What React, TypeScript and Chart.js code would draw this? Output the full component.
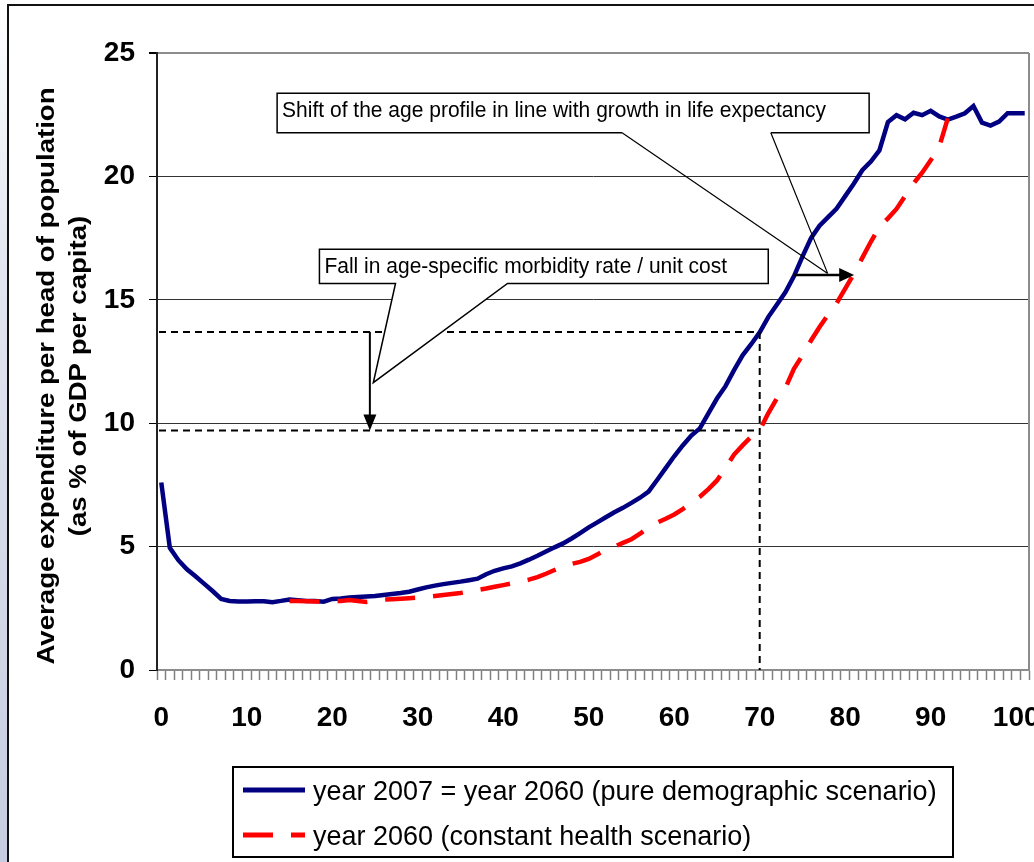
import React, { useEffect, useRef } from "react";
import { Chart, registerables } from "chart.js";

Chart.register(...registerables);

// Age categories 0..101
const ageLabels: string[] = Array.from({ length: 102 }, (_, i) => String(i));

// year 2007 = year 2060 (pure demographic scenario)
const bluePure: (number | null)[] = [
  7.6, 4.95, 4.45, 4.08, 3.8, 3.5, 3.2, 2.88, 2.8, 2.78,
  2.78, 2.79, 2.79, 2.75, 2.8, 2.86, 2.83, 2.8, 2.8, 2.77,
  2.88, 2.9, 2.94, 2.96, 2.98, 3.0, 3.04, 3.08, 3.12, 3.17,
  3.26, 3.35, 3.42, 3.48, 3.53, 3.58, 3.64, 3.7, 3.88, 4.02,
  4.12, 4.2, 4.32, 4.47, 4.63, 4.8, 4.97, 5.13, 5.33, 5.55,
  5.78, 5.98, 6.19, 6.39, 6.57, 6.77, 6.98, 7.23, 7.7, 8.18,
  8.66, 9.1, 9.5, 9.79, 10.4, 11.0, 11.5, 12.15, 12.75, 13.2,
  13.68, 14.3, 14.8, 15.3, 15.95, 16.75, 17.5, 18.0, 18.35, 18.7,
  19.2, 19.7, 20.25, 20.6, 21.05, 22.2, 22.48, 22.31, 22.58, 22.48,
  22.66, 22.43, 22.3, 22.42, 22.56, 22.85, 22.18, 22.06, 22.22, 22.56,
  22.56, 22.56,
];

// year 2060 (constant health scenario)
const redConstant: (number | null)[] = [
  null, null, null, null, null, null, null, null, null, null,
  null, null, null, null, null, 2.8, 2.8, 2.79, 2.78, 2.78,
  2.78, 2.8, 2.84, 2.8, 2.76, 2.8, 2.85, 2.87, 2.89, 2.91,
  2.93, 2.96, 3.0, 3.04, 3.08, 3.12, 3.18, 3.24, 3.3, 3.37,
  3.44, 3.51, 3.58, 3.66, 3.76, 3.9, 4.05, 4.19, 4.3, 4.38,
  4.5, 4.68, 4.86, 5.0, 5.15, 5.3, 5.52, 5.78, 5.97, 6.13,
  6.3, 6.52, 6.76, 7.02, 7.33, 7.68, 8.2, 8.73, 9.1, 9.45,
  9.72, 10.4, 11.0, 11.42, 12.2, 12.75, 13.35, 13.9, 14.4, 14.86,
  15.45, 16.05, 16.7, 17.35, 17.95, 18.3, 18.68, 19.2, 19.72, 20.15,
  20.65, 21.2, 22.35, null, null, null, null, null, null, null,
  null, null,
];

const yTicks = [0, 5, 10, 15, 20, 25];
const seriesNames = [
  "year 2007 = year 2060 (pure demographic scenario)",
  "year 2060 (constant health scenario)",
];
const yTitleLines = [
  "Average expenditure per head of population",
  "(as % of GDP per capita)",
];
const calloutShiftText = "Shift of the age profile in line with growth in life expectancy";
const calloutFallText = "Fall in age-specific morbidity rate / unit cost";

// annotation anchors in data units (age, value)
const levelBefore = 13.7;
const levelAfter = 9.7;
const refAge = 70;
const fallArrowAge = 24.4;
const shiftArrow = { fromAge: 74, toAge: 81.05, value: 16.0 };
const shiftBox = { left: 13.55, right: 82.8, top: 23.37, bottom: 21.77, baseL: 53.9, baseR: 71.3, apexAge: 77.95, apexVal: 16.07 };
const fallBox = { left: 18.5, right: 71.0, top: 17.05, bottom: 15.66, baseL: 27.4, baseR: 40.5, apexAge: 24.8, apexVal: 11.64 };

const FONT = '"Liberation Sans", Arial, Helvetica, sans-serif';

function drawText(
  ctx: CanvasRenderingContext2D,
  text: string,
  x: number,
  y: number,
  font: string,
  sy = 1,
  align: CanvasTextAlign = "left"
) {
  ctx.save();
  ctx.translate(x, y);
  ctx.scale(1, sy);
  ctx.font = font;
  ctx.fillStyle = "#000";
  ctx.textAlign = align;
  ctx.textBaseline = "alphabetic";
  ctx.fillText(text, 0, 0);
  ctx.restore();
}

const annotationPlugin = {
  id: "annotations",
  afterDatasetsDraw(chart: any) {
    const ctx: CanvasRenderingContext2D = chart.ctx;
    const xs = chart.scales.x;
    const ys = chart.scales.y;
    const px = (a: number) => xs.getPixelForValue(a);
    const py = (v: number) => ys.getPixelForValue(v);
    const area = chart.chartArea;

    ctx.save();
    // right border of plot area
    ctx.strokeStyle = "#8c8c8c";
    ctx.lineWidth = 2;
    ctx.beginPath();
    ctx.moveTo(area.right, area.top);
    ctx.lineTo(area.right, area.bottom);
    ctx.stroke();

    // dashed reference lines
    ctx.strokeStyle = "#000";
    ctx.lineWidth = 2;
    ctx.setLineDash([7, 5]);
    ctx.beginPath();
    ctx.moveTo(area.left + 2, py(levelBefore));
    ctx.lineTo(px(refAge), py(levelBefore));
    ctx.moveTo(area.left + 2, py(levelAfter));
    ctx.lineTo(px(refAge), py(levelAfter));
    ctx.moveTo(px(refAge), py(levelBefore));
    ctx.lineTo(px(refAge), area.bottom);
    ctx.stroke();
    ctx.setLineDash([]);

    // vertical arrow (fall)
    const ax = px(fallArrowAge);
    const ay1 = py(levelBefore);
    const ay2 = py(levelAfter);
    ctx.lineWidth = 2;
    ctx.beginPath();
    ctx.moveTo(ax, ay1);
    ctx.lineTo(ax, ay2 - 12);
    ctx.stroke();
    ctx.fillStyle = "#000";
    ctx.beginPath();
    ctx.moveTo(ax, ay2);
    ctx.lineTo(ax - 6.5, ay2 - 16);
    ctx.lineTo(ax + 6.5, ay2 - 16);
    ctx.closePath();
    ctx.fill();

    // horizontal arrow (shift)
    const hy = py(shiftArrow.value);
    const hx1 = px(shiftArrow.fromAge);
    const hx2 = px(shiftArrow.toAge);
    ctx.lineWidth = 2.5;
    ctx.beginPath();
    ctx.moveTo(hx1, hy);
    ctx.lineTo(hx2 - 12, hy);
    ctx.stroke();
    ctx.beginPath();
    ctx.moveTo(hx2, hy);
    ctx.lineTo(hx2 - 15, hy - 7);
    ctx.lineTo(hx2 - 15, hy + 7);
    ctx.closePath();
    ctx.fill();

    // callout: fall (filled wedge)
    {
      const L = px(fallBox.left), R = px(fallBox.right);
      const T = py(fallBox.top), B = py(fallBox.bottom);
      const bl = px(fallBox.baseL), br = px(fallBox.baseR);
      const apx = px(fallBox.apexAge), apy = py(fallBox.apexVal);
      ctx.beginPath();
      ctx.moveTo(L, T);
      ctx.lineTo(R, T);
      ctx.lineTo(R, B);
      ctx.lineTo(br, B);
      ctx.lineTo(apx, apy);
      ctx.lineTo(bl, B);
      ctx.lineTo(L, B);
      ctx.closePath();
      ctx.fillStyle = "#fff";
      ctx.fill();
      ctx.strokeStyle = "#000";
      ctx.lineWidth = 1.5;
      ctx.stroke();
      drawText(ctx, calloutFallText, L + 5, T + 24, `21px ${FONT}`, 1.08);
    }

    // callout: shift (open wedge)
    {
      const L = px(shiftBox.left), R = px(shiftBox.right);
      const T = py(shiftBox.top), B = py(shiftBox.bottom);
      const bl = px(shiftBox.baseL), br = px(shiftBox.baseR);
      const apx = px(shiftBox.apexAge), apy = py(shiftBox.apexVal);
      ctx.fillStyle = "#fff";
      ctx.fillRect(L, T, R - L, B - T);
      ctx.strokeStyle = "#000";
      ctx.lineWidth = 1.5;
      ctx.beginPath();
      ctx.moveTo(bl, B);
      ctx.lineTo(L, B);
      ctx.lineTo(L, T);
      ctx.lineTo(R, T);
      ctx.lineTo(R, B);
      ctx.lineTo(br, B);
      ctx.stroke();
      ctx.lineWidth = 1.2;
      ctx.beginPath();
      ctx.moveTo(bl, B);
      ctx.lineTo(apx, apy);
      ctx.moveTo(br, B);
      ctx.lineTo(apx, apy);
      ctx.stroke();
      drawText(ctx, calloutShiftText, L + 5, T + 23.4, `21px ${FONT}`, 1.08);
    }
    ctx.restore();
  },
  afterDraw(chart: any) {
    const ctx: CanvasRenderingContext2D = chart.ctx;
    ctx.save();
    // y axis title (two rotated lines)
    const baseXs = [54, 86];
    yTitleLines.forEach((t, i) => {
      ctx.save();
      ctx.translate(baseXs[i], 376);
      ctx.rotate(-Math.PI / 2);
      ctx.scale(1.2, 1);
      ctx.font = `bold 23px ${FONT}`;
      ctx.fillStyle = "#000";
      ctx.textAlign = "center";
      ctx.textBaseline = "alphabetic";
      ctx.fillText(t, 0, 0);
      ctx.restore();
    });

    // legend
    const lx = 233, ly = 767, lw = 720, lh = 90;
    ctx.fillStyle = "#fff";
    ctx.fillRect(lx, ly, lw, lh);
    ctx.strokeStyle = "#000";
    ctx.lineWidth = 2;
    ctx.strokeRect(lx, ly, lw, lh);
    const rows = [
      { y: 790, color: "#000080", dash: [] as number[] },
      { y: 835, color: "#ff0000", dash: [30, 18] },
    ];
    rows.forEach((r, i) => {
      ctx.strokeStyle = r.color;
      ctx.lineWidth = 5;
      ctx.setLineDash(r.dash);
      ctx.beginPath();
      ctx.moveTo(243, r.y);
      ctx.lineTo(305, r.y);
      ctx.stroke();
      ctx.setLineDash([]);
      drawText(ctx, seriesNames[i], 313, r.y + 9.5, `27px ${FONT}`, 1.05);
    });
    ctx.restore();
  },
};

export default function App() {
  const canvasRef = useRef<HTMLCanvasElement | null>(null);

  useEffect(() => {
    const canvas = canvasRef.current;
    if (!canvas) return;
    const chart = new Chart(canvas, {
      type: "line",
      data: {
        labels: ageLabels,
        datasets: [
          {
            label: seriesNames[1],
            data: redConstant,
            borderColor: "#ff0000",
            borderWidth: 4.5,
            borderDash: [30, 18],
            pointRadius: 0,
            tension: 0,
            fill: false,
            spanGaps: false,
            order: 0,
          },
          {
            label: seriesNames[0],
            data: bluePure,
            borderColor: "#000080",
            borderWidth: 4.5,
            pointRadius: 0,
            tension: 0,
            fill: false,
            order: 1,
          },
        ],
      },
      options: {
        responsive: false,
        animation: false,
        devicePixelRatio: 1,
        layout: { padding: { top: 53, right: 5, left: 0, bottom: 0 } },
        plugins: {
          legend: { display: false },
          tooltip: { enabled: false },
          title: { display: false },
        },
        scales: {
          x: {
            type: "category",
            offset: true,
            grid: {
              offset: true,
              drawOnChartArea: false,
              drawTicks: true,
              tickLength: 10,
              tickColor: "#808080",
              tickWidth: 1.5,
            },
            border: { display: true, color: "#8c8c8c", width: 2 },
            ticks: {
              autoSkip: false,
              maxRotation: 0,
              minRotation: 0,
              padding: 24,
              color: "#000",
              font: { family: FONT, weight: "bold", size: 28, lineHeight: 1 },
              callback: (_v: any, i: number) => (i % 10 === 0 ? ageLabels[i] : ""),
            },
            afterFit: (s: any) => {
              s.height = 192;
              s.paddingLeft = 0;
              s.paddingRight = 0;
            },
          },
          y: {
            min: 0,
            max: 25,
            afterBuildTicks: (s: any) => {
              s.ticks = yTicks.map((v) => ({ value: v }));
            },
            ticks: {
              stepSize: 5,
              padding: 14,
              color: "#000",
              font: { family: FONT, weight: "bold", size: 28, lineHeight: 1 },
            },
            grid: {
              color: (c: any) => (c.tick && (c.tick.value === 25 || c.tick.value === 0) ? "#8c8c8c" : "#333"),
              lineWidth: (c: any) => (c.tick && c.tick.value === 25 ? 2 : 1),
              tickLength: 8,
              tickColor: "#000",
            },
            border: { color: "#222", width: 2 },
            afterFit: (s: any) => {
              s.width = 157;
            },
          },
        },
      },
      plugins: [annotationPlugin],
    });
    return () => chart.destroy();
  }, []);

  return (
    <div
      style={{
        position: "fixed",
        left: 0,
        top: 0,
        width: 1034,
        height: 862,
        overflow: "hidden",
        background: "#fff",
      }}
    >
      <div
        style={{
          position: "absolute",
          left: 0,
          top: 0,
          width: 7,
          height: 862,
          background: "linear-gradient(#ffffff, #e2e6f0 30%, #c6cde0)",
        }}
      />
      <div
        style={{
          position: "absolute",
          left: 7,
          top: 4,
          width: 1100,
          height: 1000,
          border: "2px solid #111",
          boxSizing: "border-box",
        }}
      />
      <canvas
        ref={canvasRef}
        width={1034}
        height={862}
        style={{ position: "absolute", left: 0, top: 0, width: 1034, height: 862 }}
      />
    </div>
  );
}
